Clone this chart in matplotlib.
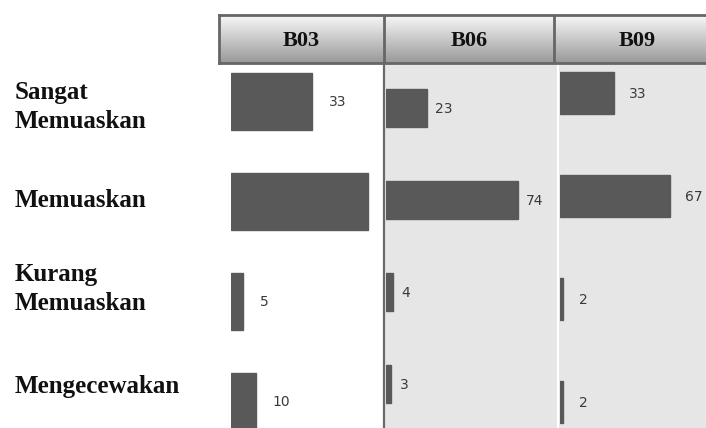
import numpy as np
import matplotlib.pyplot as plt

# survey answers per branch
categories = ['Sangat\nMemuaskan', 'Memuaskan', 'Kurang\nMemuaskan', 'Mengecewakan']
panels = ['B03', 'B06', 'B09']
b03 = [33, 56, 5, 10]
b06 = [23, 74, 4, 3]
b09 = [33, 67, 2, 2]
# the picture leaves out the label of the big B03 bar
b03_labels = ['33', '', '5', '10']
b06_labels = ['23', '74', '4', '3']
b09_labels = ['33', '67', '2', '2']

W, H = 706, 428
fig = plt.figure(figsize=(W / 100, H / 100), dpi=100)


def px_axes(x0, y0, x1, y1, **kw):
    """Axes from pixel box (top-left origin)."""
    return fig.add_axes([x0 / W, 1 - y1 / H, (x1 - x0) / W, (y1 - y0) / H], **kw)


# panel backgrounds
bg = px_axes(0, 0, W, H)
bg.set_xlim(0, W)
bg.set_ylim(H, 0)
bg.axis('off')
bg.axvspan(384, 557, ymin=0, ymax=1 - 63 / H, color='#e6e6e6', lw=0)
bg.axvspan(557, W, ymin=0, ymax=1 - 63 / H, color='#e6e6e6', lw=0)
bg.axvline(384, ymin=0, ymax=1 - 63 / H, color='#6a6a6a', lw=1.6)
bg.axvline(558, ymin=0, ymax=1 - 63 / H, color='white', lw=1.5)

# header with gradient
hd = px_axes(219, 15, 720, 63)
grad = np.linspace(0.97, 0.6, 100).reshape(-1, 1)
hd.imshow(grad, cmap='gray', vmin=0, vmax=1, aspect='auto',
          extent=[0, 1, 0, 1], interpolation='bilinear')
hd.set_xlim(0, 1)
hd.set_ylim(0, 1)
hd.set_xticks([])
hd.set_yticks([])
for s in hd.spines.values():
    s.set_color('#666666')
    s.set_linewidth(2)
cells = [(219, 384), (384, 554), (554, 720)]
for (a, b), name in zip(cells, panels):
    c = ((a + b) / 2 - 219) / (720 - 219)
    hd.text(c, 0.45, name, ha='center', va='center', fontsize=16,
            fontweight='bold', family='Liberation Serif', color='#111111')
    if a > 219:
        hd.axvline((a - 219) / (720 - 219), color='#666666', lw=2)

# bar panels: start x, px per unit, first row centre, row step, bar height, label gap
layout = [
    (231, 2.45, 101, 100, 57, 12),
    (386, 1.78, 108, 92, 38, 6),
    (560, 1.64, 93, 103, 42, 11),
]
series = [b03, b06, b09]
labels = [b03_labels, b06_labels, b09_labels]

for (x0, scale, r0, step, bh, gap), vals, labs in zip(layout, series, labels):
    top = r0 - step / 2
    ax = px_axes(x0, top, W, top + 4 * step)
    ax.set_xlim(0, (W - x0) / scale)
    ax.set_ylim(3.5, -0.5)
    ax.axis('off')
    y = np.arange(len(vals))
    ax.barh(y, vals, height=bh / step, color='#595959', edgecolor='#595959')
    for yi, v, t in zip(y, vals, labs):
        ax.annotate(t, (v, yi), xytext=(gap, -1), textcoords='offset points',
                    ha='left', va='center', fontsize=10, color='#3a3a3a')

# row captions on the left
label_y = [107, 200, 289, 387]
for t, yy in zip(categories, label_y):
    fig.text(15 / W, 1 - yy / H, t, ha='left', va='center', fontsize=18,
             fontweight='bold', family='Liberation Serif', color='#111111',
             linespacing=1.3)

fig.savefig('out.png', dpi=100)
